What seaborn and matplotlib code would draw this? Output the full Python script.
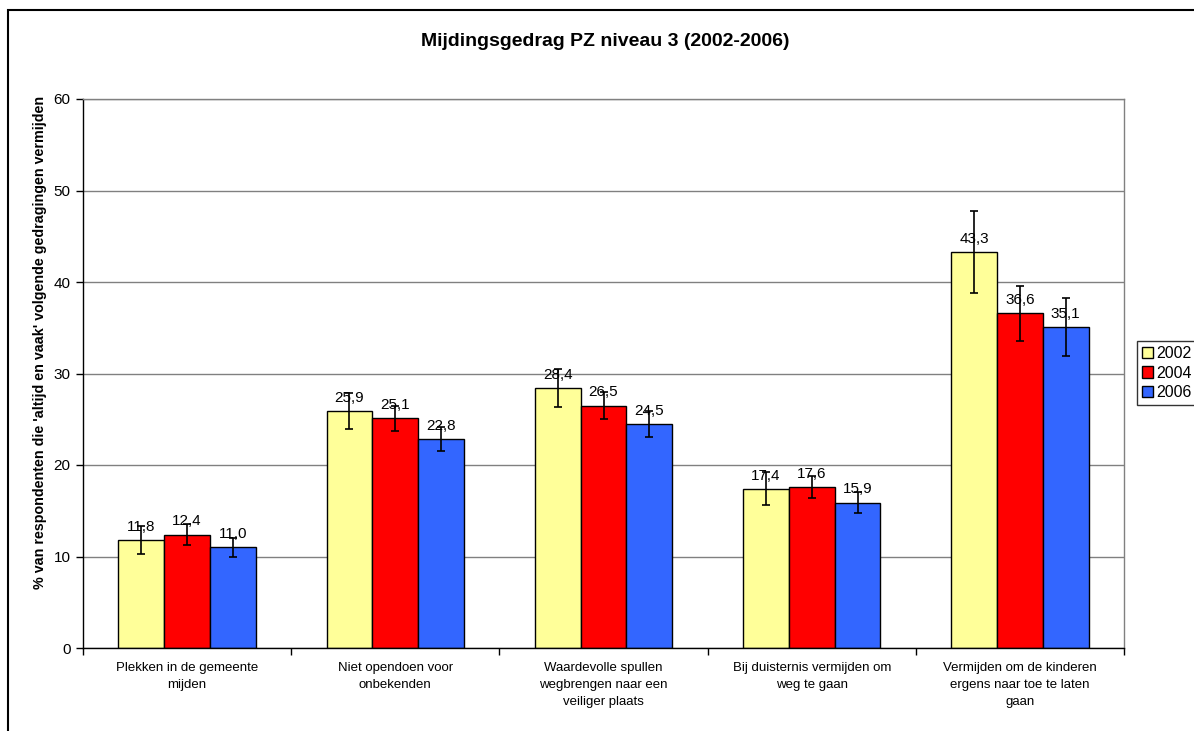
import pandas as pd
import seaborn as sns
import matplotlib.pyplot as plt
from matplotlib.patches import Rectangle
from matplotlib.ticker import FixedLocator

categories = [
    'Plekken in de gemeente\nmijden',
    'Niet opendoen voor\nonbekenden',
    'Waardevolle spullen\nwegbrengen naar een\nveiliger plaats',
    'Bij duisternis vermijden om\nweg te gaan',
    'Vermijden om de kinderen\nergens naar toe te laten\ngaan',
]
years = ['2002', '2004', '2006']
values_2002 = [11.8, 25.9, 28.4, 17.4, 43.3]
values_2004 = [12.4, 25.1, 26.5, 17.6, 36.6]
values_2006 = [11.0, 22.8, 24.5, 15.9, 35.1]
err_2002 = [1.5, 2.0, 2.1, 1.8, 4.45]
err_2004 = [1.1, 1.35, 1.45, 1.2, 3.0]
err_2006 = [1.0, 1.3, 1.4, 1.2, 3.2]

colors = ['#FFFF99', '#FF0000', '#3366FF']

rows = []
for year, vals, errs in zip(years, [values_2002, values_2004, values_2006],
                            [err_2002, err_2004, err_2006]):
    for cat, v, e in zip(categories, vals, errs):
        rows.append({'Gedrag': cat, 'Jaar': year, 'Percentage': v, 'Fout': e})
df = pd.DataFrame(rows)

sns.set_style('white')
plt.rcParams['font.family'] = ['Liberation Sans', 'DejaVu Sans']
plt.rcParams.update({
    'text.color': 'black',
    'axes.labelcolor': 'black',
    'xtick.color': 'black',
    'ytick.color': 'black',
})

fig = plt.figure(figsize=(11.94, 7.31), dpi=100)
ax = fig.add_axes([83 / 1194, 83 / 731, 1041 / 1194, 549 / 731])

sns.barplot(
    data=df, x='Gedrag', y='Percentage', hue='Jaar',
    order=categories, hue_order=years, palette=colors,
    errorbar=None, width=0.66, gap=0, edgecolor='black', linewidth=1,
    saturation=1, ax=ax,
)

for container, year in zip(ax.containers, years):
    sub = df[df['Jaar'] == year].set_index('Gedrag').loc[categories]
    xs = [p.get_x() + p.get_width() / 2 for p in container.patches]
    ax.errorbar(xs, sub['Percentage'], yerr=sub['Fout'], fmt='none',
                ecolor='black', elinewidth=1.2, capsize=3, capthick=1.2, zorder=5)
    for x, v in zip(xs, sub['Percentage']):
        ax.annotate(f'{v:.1f}'.replace('.', ','), (x, v), xytext=(0, 4.5),
                    textcoords='offset points', ha='center', va='bottom',
                    fontsize=11, zorder=6)

ax.set_ylim(0, 60)
ax.set_xlim(-0.5, len(categories) - 0.5)
ax.set_yticks(range(0, 61, 10))
ax.yaxis.grid(True, color='#808080', linewidth=1)
ax.set_axisbelow(True)
ax.tick_params(axis='y', which='major', left=True, length=5, width=1,
               color='black', labelsize=11, pad=4)
ax.tick_params(axis='x', which='major', length=0, labelsize=9.5, pad=10)
for lbl in ax.get_xticklabels():
    lbl.set_linespacing(1.55)
ax.xaxis.set_minor_locator(FixedLocator([i - 0.5 for i in range(len(categories) + 1)]))
ax.tick_params(axis='x', which='minor', bottom=True, length=5, width=1, color='black')
ax.set_xlabel('')
ax.set_ylabel("% van respondenten die 'altijd en vaak' volgende gedragingen vermijden",
              fontsize=10.3, fontweight='bold', labelpad=6)
ax.yaxis.set_label_coords(-0.035, 0.557)

for side in ['left', 'bottom']:
    ax.spines[side].set_color('black')
    ax.spines[side].set_linewidth(1)
for side in ['top', 'right']:
    ax.spines[side].set_visible(True)
    ax.spines[side].set_color('#808080')
    ax.spines[side].set_linewidth(1)

handles, labels = ax.get_legend_handles_labels()
ax.legend_.remove()
leg = fig.legend(handles, labels, loc='center left',
                 bbox_to_anchor=(1137 / 1194, 1 - 373 / 731),
                 frameon=True, fancybox=False, fontsize=11.5,
                 handlelength=0.7, handleheight=0.7, handletextpad=0.2,
                 borderpad=0.3, labelspacing=0.3, borderaxespad=0)
leg.get_frame().set_edgecolor('black')
leg.get_frame().set_linewidth(1)

fig.text(605 / 1194, 1 - 42 / 731, 'Mijdingsgedrag PZ niveau 3 (2002-2006)',
         ha='center', va='center', fontsize=14, fontweight='bold')

fig.patches.append(Rectangle((8 / 1194, -0.1), 1.2, 1 - 10 / 731 + 0.1,
                             transform=fig.transFigure, fill=False,
                             edgecolor='black', linewidth=1.5))

fig.savefig('out.png', dpi=100)
